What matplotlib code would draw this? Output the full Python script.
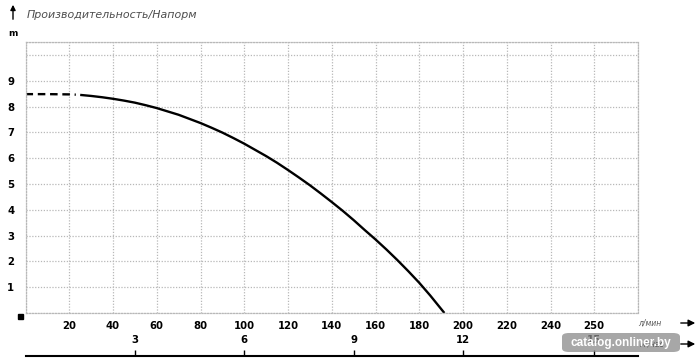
import matplotlib
matplotlib.use("Agg")
import matplotlib.pyplot as plt
from matplotlib.patches import FancyBboxPatch, FancyArrowPatch

# flow (l/min) vs head (m)
flow_dashed = [0, 10, 20, 23]
head_dashed = [8.48, 8.48, 8.47, 8.46]
flow = [25, 30, 35, 40, 45, 50, 55, 60, 65, 70, 75, 80, 85, 90, 95, 100, 105, 110,
        115, 120, 125, 130, 135, 140, 145, 150, 155, 160, 165, 170, 175, 180, 185, 191.5]
head = [8.45, 8.41, 8.36, 8.30, 8.23, 8.15, 8.05, 7.94, 7.81, 7.68, 7.52, 7.36, 7.18,
        6.99, 6.78, 6.56, 6.32, 6.08, 5.82, 5.54, 5.25, 4.95, 4.63, 4.30, 3.96, 3.60,
        3.22, 2.85, 2.46, 2.05, 1.62, 1.17, 0.68, 0.0]

xtick_pos = [0, 20, 40, 60, 80, 100, 120, 140, 160, 180, 200, 220, 240, 260, 280]
xtick_lab = ["", "20", "40", "60", "80", "100", "120", "140", "160", "180", "200", "220", "240", "250", ""]
ytick_pos = [0, 1, 2, 3, 4, 5, 6, 7, 8, 9, 10, 10.5]
ytick_lab = ["", "1", "2", "3", "4", "5", "6", "7", "8", "9", "", ""]
m3_pos = [50, 100, 150, 200, 260]
m3_lab = ["3", "6", "9", "12", "15"]

fig = plt.figure(figsize=(7, 3.63), dpi=100)
W, H = 700.0, 363.0
ax = fig.add_axes([25.5 / W, 1 - 313 / H, (638 - 25.5) / W, (313 - 42) / H])

ax.plot(flow_dashed, head_dashed, color="black", lw=1.7, ls=(0, (3.2, 2)))
ax.plot(flow, head, color="black", lw=1.7, solid_capstyle="butt")

ax.set_xlim(0, 280)
ax.set_ylim(0, 10.5)
ax.set_xticks(xtick_pos)
ax.set_xticklabels(xtick_lab, fontsize=7.3, fontweight="bold")
ax.set_yticks(ytick_pos)
ax.set_yticklabels(ytick_lab, fontsize=7.3, fontweight="bold")
ax.tick_params(length=0)
ax.tick_params(axis="x", pad=6)
ax.tick_params(axis="y", pad=8)
grid_ls = (0, (1, 1.3))
ax.grid(True, color="#b8b8b8", ls=grid_ls, lw=0.9)
for s in ax.spines.values():
    s.set_color("#b8b8b8")
    s.set_linestyle(grid_ls)
    s.set_linewidth(0.9)

# second scale (m3/h)
ax2 = fig.add_axes([25.5 / W, 1 - 356 / H, (638 - 25.5) / W, 0.0001])
ax2.set_xlim(0, 280)
ax2.set_ylim(0, 1)
ax2.set_yticks([])
for k in ["left", "right", "top"]:
    ax2.spines[k].set_visible(False)
ax2.spines["bottom"].set_linewidth(1.5)
ax2.xaxis.tick_top()
ax2.set_xticks(m3_pos)
ax2.set_xticklabels(m3_lab, fontsize=7.3, fontweight="bold")
ax2.tick_params(axis="x", direction="out", length=4, width=1, pad=4)

# decorations
fig.text(27 / W, 1 - 15 / H, "Производительность/Напорм", fontsize=7.9,
         style="italic", color="#4d4d4d", va="center", ha="left")
fig.text(13 / W, 1 - 33 / H, "m", fontsize=6.5, fontweight="bold", va="center", ha="center")
fig.patches.append(plt.Rectangle((17.5 / W, 1 - 319 / H), 5 / W, 5 / H,
                                 transform=fig.transFigure, color="black"))
fig.add_artist(FancyArrowPatch((13 / W, 1 - 22 / H), (13 / W, 1 - 2 / H),
               transform=fig.transFigure, arrowstyle="-|>,head_length=3,head_width=1.5",
               color="black", lw=1))
fig.text(650 / W, 1 - 323 / H, "л/мин", fontsize=5.5, style="italic", color="#555555",
         va="center", ha="center")
fig.text(652 / W, 1 - 344 / H, "м³/час", fontsize=5.5, style="italic", color="#555555",
         va="center", ha="center")
for yy in [323, 344]:
    fig.add_artist(FancyArrowPatch((678 / W, 1 - yy / H), (698 / W, 1 - yy / H),
                   transform=fig.transFigure, arrowstyle="-|>,head_length=4,head_width=2",
                   color="black", lw=1))

# watermark
fig.patches.append(FancyBboxPatch((562 / W, 1 - 352 / H), 118 / W, 19 / H,
                                  boxstyle="round,pad=0,rounding_size=0.01",
                                  transform=fig.transFigure, facecolor="#8a8a8a",
                                  edgecolor="none", alpha=0.75))
fig.text(621 / W, 1 - 343 / H, "catalog.onliner.by", fontsize=8.5, fontweight="bold",
         family="Liberation Sans", color="white", va="center", ha="center")

fig.savefig("out.png", dpi=100)
